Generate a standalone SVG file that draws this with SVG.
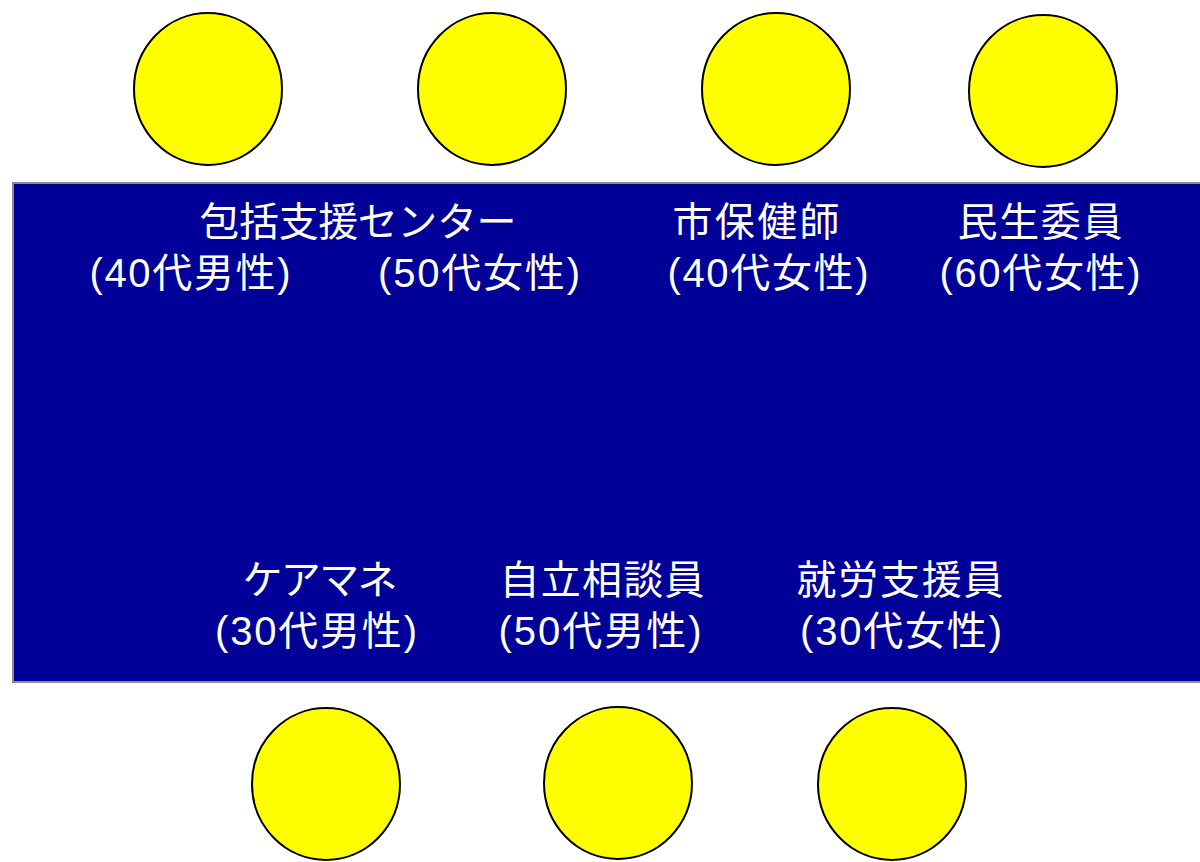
<svg xmlns="http://www.w3.org/2000/svg" width="1200" height="862" viewBox="0 0 1200 862">
<style>
.seat{fill:#ffff00;stroke:#000;stroke-width:2}
.t{font-family:"Liberation Sans","Noto Sans CJK JP",sans-serif;font-size:40px;fill:#fff;text-anchor:middle}
</style>
<rect width="1200" height="862" fill="#fff"/>
<g id="table">
<rect x="13" y="183" width="1200" height="499" fill="#000099" stroke="#8c8c8c" stroke-width="2"/>
</g>
<g id="seat-1"><ellipse class="seat" cx="208" cy="89" rx="74" ry="76"/></g>
<g id="seat-2"><ellipse class="seat" cx="492" cy="89" rx="74" ry="76"/></g>
<g id="seat-3"><ellipse class="seat" cx="776" cy="89" rx="74" ry="76"/></g>
<g id="seat-4"><ellipse class="seat" cx="1043" cy="91" rx="74" ry="76"/></g>
<g id="seat-5"><ellipse class="seat" cx="326" cy="784" rx="74" ry="76"/></g>
<g id="seat-6"><ellipse class="seat" cx="618" cy="783" rx="74" ry="76"/></g>
<g id="seat-7"><ellipse class="seat" cx="892" cy="784" rx="74" ry="76"/></g>
<g id="labels">
<text class="t" x="358" y="236" textLength="317">包括支援センター</text>
<text class="t" x="190" y="287" textLength="201">(40代男性)</text>
<text class="t" x="479" y="287" textLength="202">(50代女性)</text>
<text class="t" x="756" y="236" textLength="167">市保健師</text>
<text class="t" x="768" y="287" textLength="201">(40代女性)</text>
<text class="t" x="1040" y="236" textLength="165">民生委員</text>
<text class="t" x="1040" y="287" textLength="201">(60代女性)</text>
<text class="t" x="320" y="594" textLength="155">ケアマネ</text>
<text class="t" x="316" y="645" textLength="202">(30代男性)</text>
<text class="t" x="602" y="594" textLength="205">自立相談員</text>
<text class="t" x="600" y="645" textLength="203">(50代男性)</text>
<text class="t" x="900" y="594" textLength="207">就労支援員</text>
<text class="t" x="901" y="645" textLength="202">(30代女性)</text>
</g>
</svg>
